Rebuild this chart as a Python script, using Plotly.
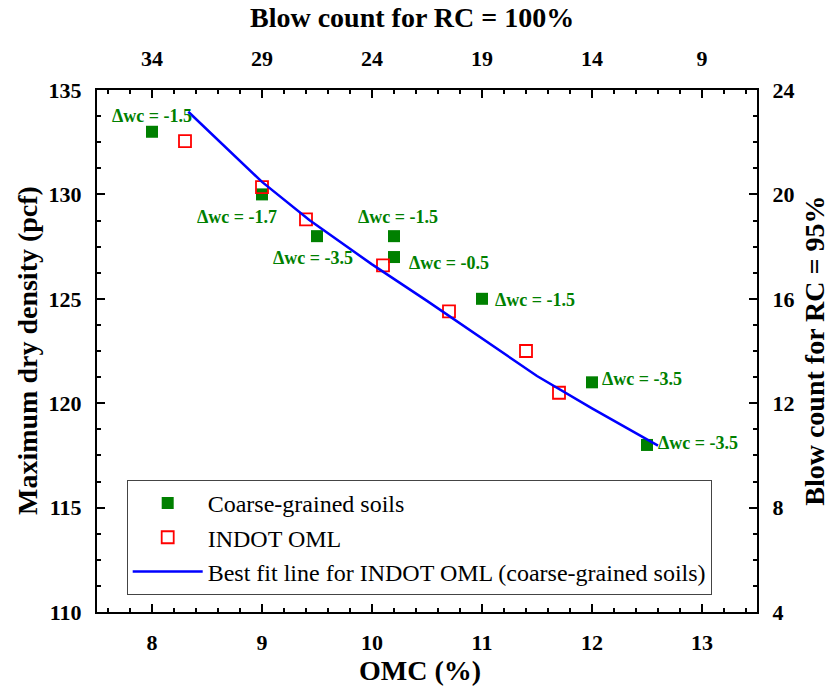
import plotly.graph_objects as go

# ---- data ----
coarse_omc = [8.0, 9.0, 9.5, 10.2, 10.2, 11.0, 12.0, 12.5]
coarse_mdd = [133.0, 130.0, 128.0, 128.0, 127.0, 125.0, 121.0, 118.0]

indot_omc = [8.3, 9.0, 9.4, 10.1, 10.7, 11.4, 11.7]
indot_mdd = [132.55, 130.35, 128.8, 126.6, 124.4, 122.5, 120.5]

fit_omc = [8.33, 8.7, 9.0, 9.43, 10.0, 10.5, 11.0, 11.5, 12.0, 12.6]
fit_mdd = [133.96, 132.1, 130.6, 128.77, 126.65, 124.9, 123.1, 121.3, 119.75, 117.97]

label_x = [8.0, 8.77, 9.46, 10.24, 10.70, 11.48, 12.45, 12.96]
label_y = [133.75, 128.92, 126.95, 128.92, 126.71, 124.94, 121.16, 118.1]
label_txt = ["Δwc = -1.5", "Δwc = -1.7", "Δwc = -3.5", "Δwc = -1.5",
             "Δwc = -0.5", "Δwc = -1.5", "Δwc = -3.5", "Δwc = -3.5"]

bottom_ticks = [8, 9, 10, 11, 12, 13]
top_ticks = [34, 29, 24, 19, 14, 9]
left_ticks = [110, 115, 120, 125, 130, 135]
right_ticks = [4, 8, 12, 16, 20, 24]

FONT = "Liberation Serif, Times New Roman, serif"
GREEN = "#008000"

fig = go.Figure()
fig.add_trace(go.Scatter(x=coarse_omc, y=coarse_mdd, mode="markers",
                         name="Coarse-grained soils",
                         marker=dict(symbol="square", size=12, color=GREEN)))
fig.add_trace(go.Scatter(x=indot_omc, y=indot_mdd, mode="markers",
                         name="INDOT OML",
                         marker=dict(symbol="square-open", size=12, color="#ff0000",
                                     line=dict(width=1.8, color="#ff0000"))))
fig.add_trace(go.Scatter(x=fit_omc, y=fit_mdd, mode="lines",
                         name="Best fit line for INDOT OML (coarse-grained soils)",
                         line=dict(color="#0000ff", width=2.5)))
# dummy trace to activate secondary axes
fig.add_trace(go.Scatter(x=[None], y=[None], xaxis="x2", yaxis="y2",
                         showlegend=False, hoverinfo="skip"))

for tx, ty, tt in zip(label_x, label_y, label_txt):
    fig.add_annotation(x=tx, y=ty, text=tt, showarrow=False,
                       xanchor="center", yanchor="middle",
                       font=dict(family=FONT, size=18, color=GREEN, weight="bold"))

axis_common = dict(showline=True, linewidth=2, linecolor="black",
                   ticks="inside", ticklen=8, tickwidth=2, tickcolor="black",
                   showgrid=False, zeroline=False,
                   tickfont=dict(family=FONT, size=22, color="black", weight="bold"))

fig.update_layout(
    width=829, height=688,
    margin=dict(l=97, r=72, t=90, b=76),
    plot_bgcolor="white", paper_bgcolor="white",
    showlegend=True,
    legend=dict(x=0.045, y=0.253, xanchor="left", yanchor="top",
                bordercolor="#444444", borderwidth=1, bgcolor="rgba(255,255,255,0)",
                font=dict(family=FONT, size=24, color="black"),
                itemwidth=70, tracegroupgap=0),
    xaxis=dict(range=[7.5, 13.5], tickvals=bottom_ticks, ticklabelstandoff=10,
               minor=dict(ticks="inside", ticklen=4, tickwidth=1.5, tickcolor="black", dtick=0.2),
               **axis_common),
    yaxis=dict(range=[110, 135], tickvals=left_ticks, ticklabelstandoff=9,
               minor=dict(ticks="inside", ticklen=4, tickwidth=1.5, tickcolor="black", dtick=1.25),
               **axis_common),
    xaxis2=dict(range=[36.5, 6.5], tickvals=top_ticks, overlaying="x", side="top",
                anchor="y2", ticklabelstandoff=13,
                minor=dict(ticks="inside", ticklen=4, tickwidth=1.5, tickcolor="black", dtick=1),
                **axis_common),
    yaxis2=dict(range=[4, 24], tickvals=right_ticks, overlaying="y", side="right",
                anchor="x2", ticklabelstandoff=9,
                minor=dict(ticks="inside", ticklen=4, tickwidth=1.5, tickcolor="black", dtick=1),
                **axis_common),
)

title_font = dict(family=FONT, size=28, color="black", weight="bold")
ann_common = dict(xref="paper", yref="paper", showarrow=False,
                  xanchor="center", yanchor="middle", font=title_font)
fig.add_annotation(text="Blow count for RC = 100%", x=0.477, y=1.138, **ann_common)
fig.add_annotation(text="OMC (%)", x=0.489, y=-0.113, **ann_common)
fig.add_annotation(text="Maximum dry density (pcf)", x=-0.106, y=0.5,
                   textangle=-90, **ann_common)
fig.add_annotation(text="Blow count for RC = 95%", x=1.086, y=0.5,
                   textangle=-90, **ann_common)

fig.write_html("out.html")
